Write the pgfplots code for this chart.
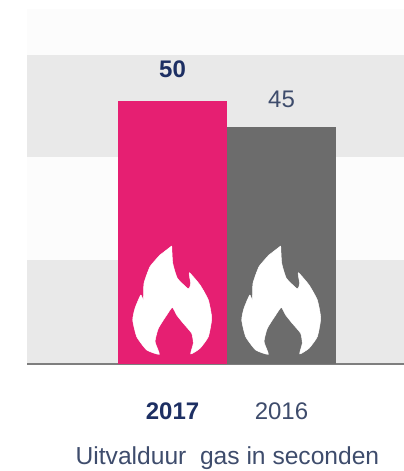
\documentclass[border=0pt]{standalone}
\usepackage{pgfplots}
\pgfplotsset{compat=1.18}
\usepackage{pgfplotstable}
\usepackage{fontspec}
\setmainfont{Liberation Sans}
\definecolor{band}{HTML}{E9E9E9}
\definecolor{pink}{HTML}{E61F72}
\definecolor{bargray}{HTML}{6C6C6C}
\definecolor{navy}{HTML}{1D2F63}
\definecolor{slate}{HTML}{3E4C6C}
\definecolor{basel}{HTML}{7E7E7E}
% flame outline in pixels of the picture
\pgfplotstableread{
px py
171.7 246
172.7 263.3
177.3 278.3
187.3 288.3
189.3 288.3
190.7 283.3
189.3 272.7
200 285
208.3 300
211.7 318.3
208.3 336.7
200 348.3
190.7 354
193.3 343.3
191.7 333.3
183.3 323.3
176.7 315
172.3 307.3
166.7 315
158.3 328.3
155 341.7
159.3 354.3
146.7 350
136.7 336.7
132.7 320
135 308.3
140.7 295
143.3 300
144 283.3
150 266.7
160 255
}\flame
\begin{document}
\begin{tikzpicture}
\path[use as bounding box] (0,-107pt) rectangle (404pt,364pt);
\begin{axis}[
    at={(0,0)}, anchor=south west,
    scale only axis, width=404pt, height=364pt,
    xmin=-1.583, xmax=2.124, ymin=0, ymax=69.2,
    axis y line=none,
    axis x line=bottom,
    axis line style={draw=none},
    xtick={0,1},
    xticklabels={{\color{navy}\bfseries 2017},{\color{slate}2016}},
    major tick length=0pt,
    xticklabel style={font=\fontsize{24}{24}\selectfont, yshift=-35pt},
    xlabel={\color{slate}Uitvalduur\ \ gas in seconden},
    xlabel style={font=\fontsize{24.6}{24.6}\selectfont, at={(axis description cs:0.563,0)}, anchor=base, yshift=-100pt},
    clip=false,
    /pgf/number format/assume math mode=true,
]
% background bands
\addplot[fill=black!1, draw=none] coordinates {(-1.335,0) (2.124,0) (2.124,67.5) (-1.335,67.5)} -- cycle;
\addplot[fill=band, draw=none] coordinates {(-1.335,39.35) (2.124,39.35) (2.124,58.75) (-1.335,58.75)} -- cycle;
\addplot[fill=band, draw=none] coordinates {(-1.335,0) (2.124,0) (2.124,19.77) (-1.335,19.77)} -- cycle;
% baseline
\addplot[basel, line width=2pt] coordinates {(-1.335,0) (2.124,0)};
% bars
\addplot[ybar, bar width=1, bar shift=0pt, fill=pink, draw=none,
    nodes near coords,
    every node near coord/.append style={text=navy, font=\fontsize{24}{24}\selectfont\bfseries, yshift=20pt}] coordinates {(0,50)};
\addplot[ybar, bar width=1, bar shift=0pt, fill=bargray, draw=none,
    nodes near coords,
    every node near coord/.append style={text=slate, font=\fontsize{24}{24}\selectfont, yshift=16pt}] coordinates {(1,45)};
% flames
\addplot[fill=white, draw=white, line join=round, line width=0.5pt, smooth, tension=0.3]
    table[x expr={(\thisrow{px}-172.5)/109}, y expr={(364-\thisrow{py})/5.26}] {\flame} -- cycle;
\addplot[fill=white, draw=white, line join=round, line width=0.5pt, smooth, tension=0.3]
    table[x expr={(\thisrow{px}-172.5)/109+1}, y expr={(364-\thisrow{py})/5.26}] {\flame} -- cycle;
\end{axis}
\end{tikzpicture}
\end{document}
